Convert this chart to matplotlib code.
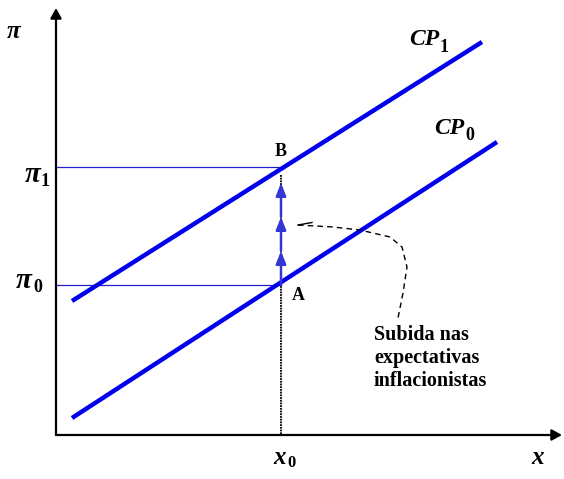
import matplotlib
matplotlib.use("Agg")
import matplotlib.pyplot as plt

# Diagram geometry (figure pixel coordinates, y grows downward)
origin = (56, 435)
x_axis_end = 562
y_axis_end = 8
cp1_x = [72, 482]
cp1_y = [301, 42]
cp0_x = [72, 497]
cp0_y = [418, 142]
x0 = 281
pi1_y = 167
pi0_y = 285
arrow_tips_y = [183, 217, 251]
curve_x = [298, 333, 360, 390, 402, 407, 403, 398]
curve_y = [225, 227, 230, 237, 247, 267, 293, 318]

fig = plt.figure(figsize=(5.64, 4.79), dpi=100)
ax = fig.add_axes([0, 0, 1, 1])
ax.set_xlim(0, 564)
ax.set_ylim(479, 0)
ax.axis("off")

serif = ["Liberation Serif", "DejaVu Serif"]
blue = "#0000ee"

# axes with arrows
for end in [(x_axis_end, origin[1]), (origin[0], y_axis_end)]:
    ax.annotate("", xy=end, xytext=origin,
                arrowprops=dict(arrowstyle="-|>,head_length=0.6,head_width=0.33", lw=1.6,
                                color="black", mutation_scale=10, shrinkA=0, shrinkB=0))

# horizontal guides
ax.plot([origin[0], x0], [pi1_y, pi1_y], color="#2020d0", lw=0.9)
ax.plot([origin[0], x0], [pi0_y, pi0_y], color="#2020d0", lw=0.9)

# vertical dotted black line
ax.plot([x0, x0], [175, origin[1]], color="black", lw=1.3, ls=(0, (1, 0.5)))

# CP lines
ax.plot(cp1_x, cp1_y, color=blue, lw=3.2, solid_capstyle="butt")
ax.plot(cp0_x, cp0_y, color=blue, lw=3.2, solid_capstyle="butt")

# blue arrows A -> B
starts = [pi0_y, arrow_tips_y[2], arrow_tips_y[1]]
tips = [arrow_tips_y[2], arrow_tips_y[1], arrow_tips_y[0]]
for s, t in zip(starts, tips):
    ax.annotate("", xy=(x0, t), xytext=(x0, s),
                arrowprops=dict(arrowstyle="-|>,head_length=0.75,head_width=0.3", lw=1.8,
                                color="#3535d5", mutation_scale=10, shrinkA=0, shrinkB=0))

# dashed curve with small half-arrowhead
ax.plot(curve_x, curve_y, color="black", lw=1.0, ls=(0, (4, 3)))
ax.plot([298, 312], [225, 222.5], color="black", lw=1.0)

# texts
ax.text(14, 31, "π", fontsize=18, style="italic", weight="bold", family=serif, ha="center", va="center")
ax.text(33, 175, "π", fontsize=21, style="italic", weight="bold", family=serif, ha="center", va="center")
ax.text(45, 181, "1", fontsize=13, weight="bold", family=serif, ha="center", va="center")
ax.text(24, 280, "π", fontsize=21, style="italic", weight="bold", family=serif, ha="center", va="center")
ax.text(37.5, 287, "0", fontsize=13, weight="bold", family=serif, ha="center", va="center")
ax.text(281, 152, "B", fontsize=13, weight="bold", family=serif, ha="center", va="center")
ax.text(298, 295, "A", fontsize=13, weight="bold", family=serif, ha="center", va="center")
ax.text(424, 39, "CP", fontsize=17, weight="bold", style="italic", family=serif, ha="center", va="center")
ax.text(444, 47, "1", fontsize=13, weight="bold", family=serif, ha="center", va="center")
ax.text(449, 129, "CP", fontsize=17, weight="bold", style="italic", family=serif, ha="center", va="center")
ax.text(470, 136, "0", fontsize=13, weight="bold", family=serif, ha="center", va="center")
ax.text(280, 458, "x", fontsize=18, weight="bold", style="italic", family=serif, ha="center", va="center")
ax.text(291, 463, "0", fontsize=12, weight="bold", family=serif, ha="center", va="center")
ax.text(538, 458, "x", fontsize=18, weight="bold", style="italic", family=serif, ha="center", va="center")
ax.text(374, 358, "Subida nas\nexpectativas\ninflacionistas", fontsize=14.5, weight="bold",
        family=serif, ha="left", va="center", linespacing=1.2)

fig.savefig("out.png", dpi=100)
